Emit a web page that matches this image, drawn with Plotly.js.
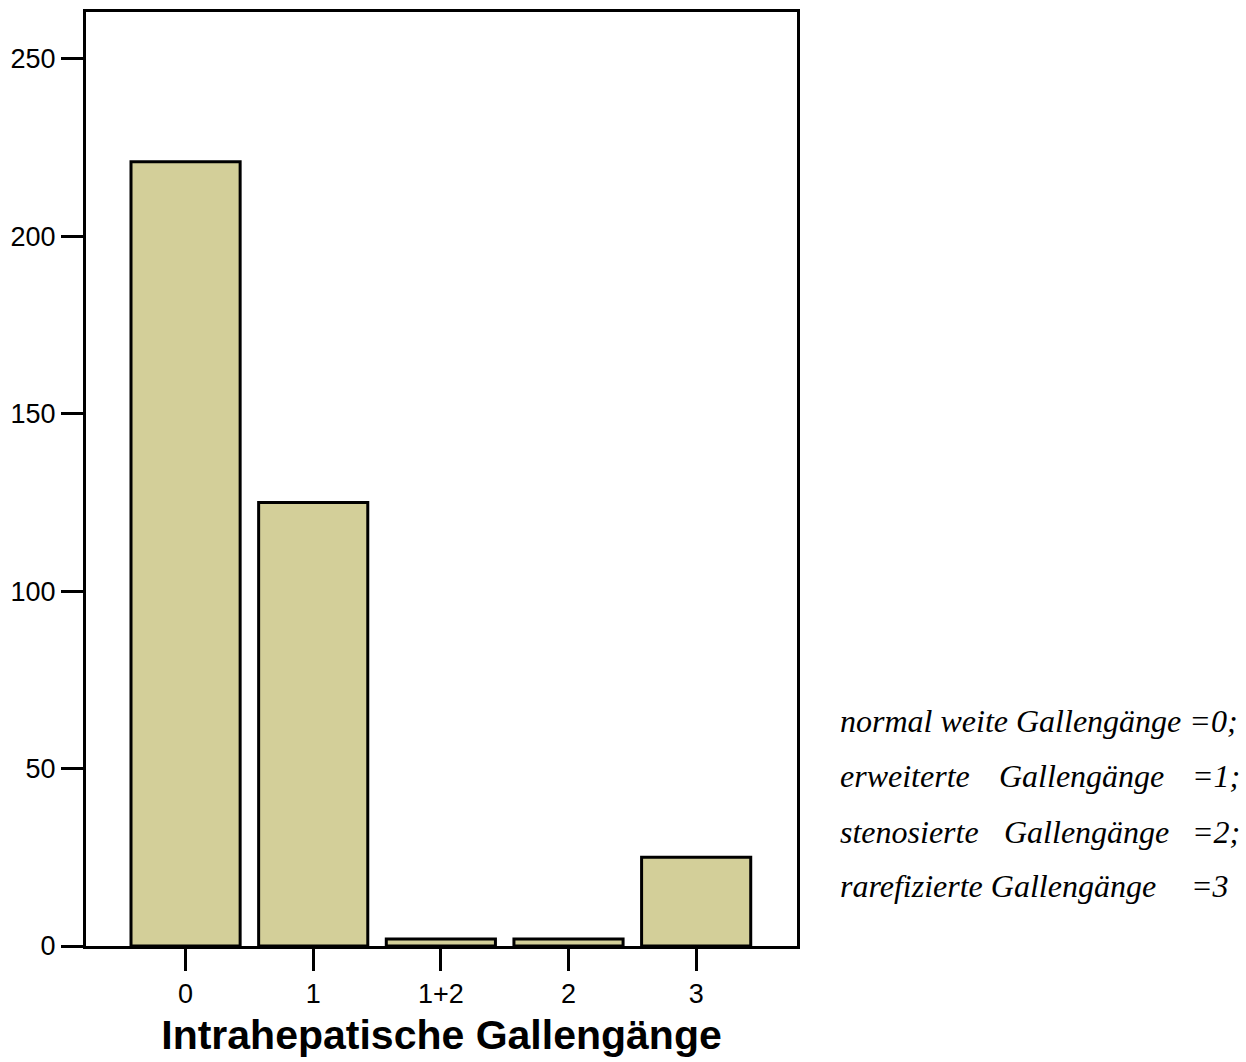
<!DOCTYPE html>
<html>
<head>
<meta charset="utf-8">
<script src="https://cdn.plot.ly/plotly-3.0.1.min.js"></script>
<style>html,body{margin:0;padding:0;background:#fff;}#chart{width:1246px;height:1062px;}</style>
</head>
<body>
<div id="chart"></div>
<script>
const categories = ["0", "1", "1+2", "2", "3"];
const counts = [221, 125, 2, 2, 25];
const yTicks = [0, 50, 100, 150, 200, 250];
const legendLines = [
  ["normal weite Gallengänge =0;"],
  ["erweiterte", "Gallengänge", "=1;"],
  ["stenosierte", "Gallengänge", "=2;"],
  ["rarefizierte Gallengänge", "=3"]
];
const xAxisTitle = "Intrahepatische Gallengänge";

const L = 86, R = 797, T = 12, B = 946;
function px2paper(px) { return (px - L) / (R - L); }
function py2paper(py) { return (B - py) / (B - T); }

const wordX = [
  [838],
  [838, 997, 1190],
  [838, 1002, 1190],
  [838, 1189]
];
const lineY = [721, 776, 832, 886];

const annotations = [];
legendLines.forEach((words, i) => {
  words.forEach((w, j) => {
    annotations.push({
      text: w, xref: "paper", yref: "paper",
      x: px2paper(wordX[i][j]), y: py2paper(lineY[i]),
      xanchor: "left", yanchor: "middle", showarrow: false,
      font: {family: "Liberation Serif", size: 32, color: "#000", style: "italic"}
    });
  });
});

const trace = {
  type: "bar", x: categories, y: counts,
  width: 0.855,
  marker: {color: "#d3cf99", line: {color: "#000", width: 3}},
  hoverinfo: "none"
};

const layout = {
  width: 1246, height: 1062,
  margin: {l: L, r: 1246 - R, t: T, b: 1062 - B, pad: 0},
  paper_bgcolor: "#fff", plot_bgcolor: "#fff",
  showlegend: false,
  font: {family: "Liberation Sans", color: "#000"},
  xaxis: {
    type: "category", range: [-0.78, 4.79],
    showline: true, mirror: true, linecolor: "#000", linewidth: 3,
    ticks: "outside", ticklen: 22, tickwidth: 3, tickcolor: "#000",
    tickfont: {size: 27, family: "Liberation Sans"},
    showgrid: false, zeroline: false,
    title: {text: xAxisTitle, font: {size: 41, family: "Liberation Sans", weight: "bold"}, standoff: 12}
  },
  yaxis: {
    range: [0, 263.2], tickvals: yTicks,
    showline: true, mirror: true, linecolor: "#000", linewidth: 3,
    ticks: "outside", ticklen: 22, tickwidth: 3, tickcolor: "#000",
    tickfont: {size: 27, family: "Liberation Sans"},
    showgrid: false, zeroline: false
  },
  annotations: annotations
};

Plotly.newPlot("chart", [trace], layout, {displayModeBar: false, staticPlot: true});
</script>
</body>
</html>
